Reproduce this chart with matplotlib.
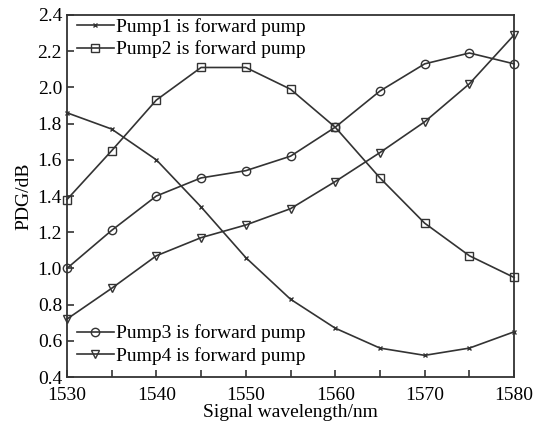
import matplotlib
matplotlib.use('Agg')
import matplotlib.pyplot as plt
import numpy as np

plt.rcParams['font.family'] = ['Liberation Serif', 'DejaVu Serif']

wavelength = [1530, 1535, 1540, 1545, 1550, 1555, 1560, 1565, 1570, 1575, 1580]
pump1 = [1.86, 1.77, 1.60, 1.34, 1.06, 0.83, 0.67, 0.56, 0.52, 0.56, 0.65]
pump2 = [1.38, 1.65, 1.93, 2.11, 2.11, 1.99, 1.78, 1.50, 1.25, 1.07, 0.95]
pump3 = [1.00, 1.21, 1.40, 1.50, 1.54, 1.62, 1.78, 1.98, 2.13, 2.19, 2.13]
pump4 = [0.72, 0.89, 1.07, 1.17, 1.24, 1.33, 1.48, 1.64, 1.81, 2.02, 2.29]

fig = plt.figure(figsize=(5.35, 4.28), dpi=100)
ax = fig.add_axes([0.125, 0.119, 0.836, 0.846])

lc = '#333333'
kw = dict(color=lc, linewidth=1.2, markerfacecolor='none', markeredgecolor=lc,
          markeredgewidth=1.0, clip_on=False)
l1, = ax.plot(wavelength, pump1, marker='x', markersize=3.5, label='Pump1 is forward pump', **kw)
l2, = ax.plot(wavelength, pump2, marker='s', markersize=5.5, label='Pump2 is forward pump', **kw)
l3, = ax.plot(wavelength, pump3, marker='o', markersize=6, label='Pump3 is forward pump', **kw)
l4, = ax.plot(wavelength, pump4, marker='v', markersize=6, label='Pump4 is forward pump', **kw)

ax.set_xlim(1530, 1580)
ax.set_ylim(0.4, 2.4)
ax.set_xticks(np.arange(1530, 1581, 10))
ax.set_xticks(np.arange(1530, 1581, 5), minor=True)
ax.set_yticks(np.arange(0.4, 2.41, 0.2))
ax.yaxis.set_major_formatter(matplotlib.ticker.FormatStrFormatter('%.1f'))
ax.tick_params(which='both', direction='in', labelsize=14, color=lc, width=1.2)
ax.tick_params(which='major', length=5)
ax.tick_params(which='minor', length=5)
ax.tick_params(axis='x', pad=7)
for s in ax.spines.values():
    s.set_linewidth(1.3)
    s.set_color(lc)

ax.set_xlabel('Signal wavelength/nm', fontsize=14, labelpad=0)
ax.set_ylabel('PDG/dB', fontsize=14)

leg_kw = dict(frameon=False, fontsize=14, handlelength=1.9, handletextpad=0.1,
              labelspacing=0.25, borderaxespad=0, borderpad=0.05)
leg1 = ax.legend(handles=[l1, l2], loc='upper left', bbox_to_anchor=(0.02, 0.995), **leg_kw)
ax.add_artist(leg1)
ax.legend(handles=[l3, l4], loc='lower left', bbox_to_anchor=(0.02, 0.03), **leg_kw)

fig.savefig('out.png', dpi=100)
